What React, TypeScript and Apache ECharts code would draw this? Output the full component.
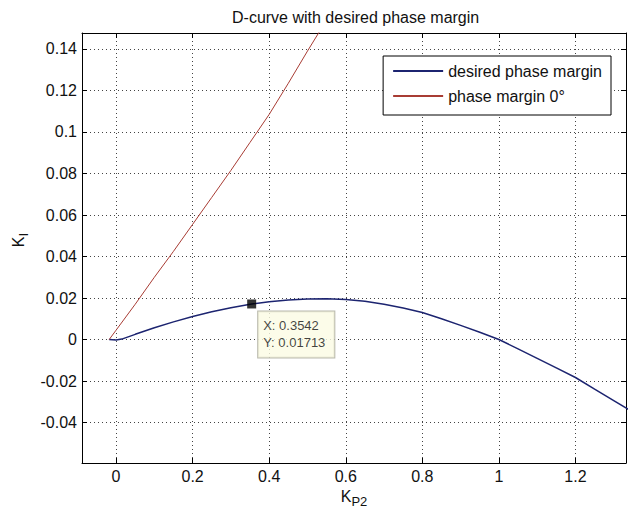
import React, { useEffect, useRef } from "react";
import * as echarts from "echarts";

const titleText = "D-curve with desired phase margin";
const seriesNames = ["desired phase margin", "phase margin 0°"];
const xTicks = [0, 0.2, 0.4, 0.6, 0.8, 1, 1.2];
const yTicks = [-0.04, -0.02, 0, 0.02, 0.04, 0.06, 0.08, 0.1, 0.12, 0.14];
const xRange = [-0.089, 1.332];
const yRange = [-0.0595, 0.1477];

const desiredX = [-0.018, 0.0, 0.015, 0.05, 0.1, 0.15, 0.2, 0.25, 0.3, 0.3542, 0.4, 0.45, 0.5, 0.55, 0.6, 0.65, 0.7, 0.75, 0.8, 0.85, 0.9, 0.95, 1.0, 1.05, 1.1, 1.15, 1.2, 1.25, 1.3, 1.35];
const desiredY = [0, -0.0002, 0.0002, 0.0025, 0.0057, 0.0085, 0.0111, 0.0134, 0.0153, 0.01713, 0.0182, 0.019, 0.0195, 0.0196, 0.0193, 0.0184, 0.017, 0.0152, 0.013, 0.01, 0.0068, 0.0035, 0.0, -0.0045, -0.0091, -0.0137, -0.0183, -0.0239, -0.0294, -0.035];

const zeroX = [-0.018, 0.0, 0.05, 0.1, 0.15, 0.2, 0.25, 0.3, 0.35, 0.4, 0.45, 0.5, 0.55];
const zeroY = [0, 0.0045, 0.017, 0.03, 0.0425, 0.0555, 0.0685, 0.0815, 0.095, 0.1085, 0.1235, 0.139, 0.154];

const dataTip = [0.3542, 0.01713];

const fontFamily = "'Liberation Sans', Arial, Helvetica, sans-serif";
const textColor = "#111";
const blue = "#1c2470";
const red = "#a83c34";

export default function App() {
  const ref = useRef<HTMLDivElement>(null);
  useEffect(() => {
    if (!ref.current) return;
    const chart = echarts.init(ref.current, null, { renderer: "svg" });
    const sideAxis = (pos: string, range: number[], ticks: number[]) => ({
      type: "value",
      position: pos,
      min: range[0],
      max: range[1],
      axisLine: { show: true, onZero: false, lineStyle: { color: "#000", width: 1 } },
      axisTick: { show: true, inside: true, length: 5, customValues: ticks, lineStyle: { color: "#000" } },
      axisLabel: { show: false },
      splitLine: { show: false },
    });
    const option: any = {
      animation: false,
      backgroundColor: "#fff",
      title: {
        text: titleText,
        left: 227,
        top: 4,
        textStyle: { fontSize: 16, fontWeight: "normal", fontFamily, color: textColor },
      },
      grid: { left: 82, right: 3, top: 33, bottom: 52 },
      legend: {
        data: seriesNames,
        orient: "vertical",
        right: 18,
        top: 56,
        itemWidth: 50,
        itemHeight: 14,
        itemGap: 9,
        padding: [7, 9, 11, 9],
        backgroundColor: "#fff",
        borderColor: "#000",
        borderWidth: 1,
        borderRadius: 0,
        itemStyle: { opacity: 0 },
        textStyle: { fontSize: 16, fontFamily, color: textColor },
      },
      xAxis: [
        {
          type: "value",
          position: "bottom",
          min: xRange[0],
          max: xRange[1],
          axisLine: { show: true, onZero: false, lineStyle: { color: "#000", width: 1 } },
          axisTick: { show: true, inside: true, length: 5, customValues: xTicks, lineStyle: { color: "#000" } },
          axisLabel: { customValues: xTicks, margin: 5, fontSize: 16, fontFamily, color: textColor },
          splitLine: { show: true, lineStyle: { color: "#444", type: [1, 3], width: 1 } },
          name: "{k|K}{s|P2}",
          nameLocation: "middle",
          nameGap: 21,
          nameTextStyle: {
            fontSize: 16,
            fontFamily,
            color: textColor,
            rich: {
              k: { fontSize: 16, fontFamily, color: textColor },
              s: { fontSize: 13, fontFamily, color: textColor, padding: [10, 0, 0, 0] },
            },
          },
        },
        sideAxis("top", xRange, xTicks),
      ],
      yAxis: [
        {
          type: "value",
          position: "left",
          min: yRange[0],
          max: yRange[1],
          axisLine: { show: true, onZero: false, lineStyle: { color: "#000", width: 1 } },
          axisTick: { show: true, inside: true, length: 5, customValues: yTicks, lineStyle: { color: "#000" } },
          axisLabel: { customValues: yTicks, margin: 5, fontSize: 16, fontFamily, color: textColor },
          splitLine: { show: true, lineStyle: { color: "#444", type: [1, 3], width: 1 } },
          name: "{k|K}{s|I}",
          nameLocation: "middle",
          nameRotate: 90,
          nameGap: 49,
          nameTextStyle: {
            fontSize: 16,
            fontFamily,
            color: textColor,
            rich: {
              k: { fontSize: 16, fontFamily, color: textColor, padding: [0, 0, 0, 16] },
              s: { fontSize: 13, fontFamily, color: textColor, padding: [10, 0, 0, 0] },
            },
          },
        },
        sideAxis("right", yRange, yTicks),
      ],
      series: [
        {
          name: seriesNames[0],
          type: "line",
          data: desiredX.map((x, i) => [x, desiredY[i]]),
          symbol: "none",
          smooth: false,
          clip: true,
          lineStyle: { color: blue, width: 1.5 },
          itemStyle: { color: blue },
        },
        {
          name: seriesNames[1],
          type: "line",
          data: zeroX.map((x, i) => [x, zeroY[i]]),
          symbol: "none",
          clip: true,
          lineStyle: { color: red, width: 1 },
          itemStyle: { color: red },
        },
        {
          name: "datatip",
          type: "scatter",
          data: [dataTip],
          symbol: "rect",
          symbolSize: 9,
          z: 10,
          itemStyle: { color: "#000" },
          label: {
            show: true,
            position: [11, 12],
            align: "left",
            verticalAlign: "top",
            formatter: (p: any) => `X: ${p.value[0]}\nY: ${p.value[1]}`,
            fontSize: 13,
            fontFamily,
            color: textColor,
            lineHeight: 17,
            backgroundColor: "#fbfbe4",
            borderColor: "#a8a898",
            borderWidth: 1,
            padding: [6, 9, 6, 5],
          },
        },
      ],
    };
    chart.setOption(option);
    return () => chart.dispose();
  }, []);
  return (
    <div
      ref={ref}
      style={{ position: "absolute", left: 0, top: 0, width: 629, height: 515, background: "#fff" }}
    />
  );
}
